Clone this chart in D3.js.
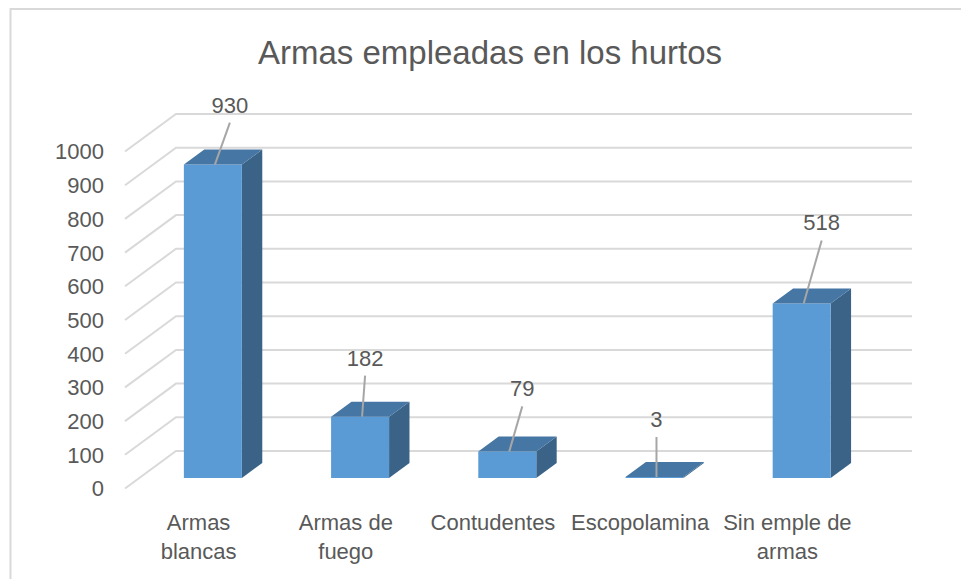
<!DOCTYPE html>
<html>
<head>
<meta charset="utf-8">
<script src="https://cdn.jsdelivr.net/npm/d3@7"></script>
<style>
  body { margin: 0; background: #fff; }
  svg text { font-family: "Liberation Sans", Arial, sans-serif; fill: #595959; }
</style>
</head>
<body>
<div id="chart"></div>
<script>
const categories = ["Armas blancas", "Armas de fuego", "Contudentes", "Escopolamina", "Sin emple de armas"];
const tickLabels = [["Armas", "blancas"], ["Armas de", "fuego"], ["Contudentes"], ["Escopolamina"], ["Sin emple de", "armas"]];
const values = [930, 182, 79, 3, 518];
const yTicks = [0, 100, 200, 300, 400, 500, 600, 700, 800, 900, 1000];
// manual data label placement (dx, dy from bar top), as in the original
const labelOffsets = [[15, -60], [3, -59], [13, -63], [0, -58], [18, -81]];

const width = 961, height = 579;
const floorY = 488.5;          // front-left bottom corner
const depth = { x: 51, y: -37.5 };
const barFront = 0.28, barBack = 0.68;

const svg = d3.select("#chart").append("svg")
    .attr("width", width)
    .attr("height", height);

// chart frame (only top and left edges show)
svg.append("path")
    .attr("d", `M10.5,${height} V9 H${width}`)
    .attr("fill", "none")
    .attr("stroke", "#d9d9d9")
    .attr("stroke-width", 2);

const x = d3.scaleBand()
    .domain(categories)
    .range([125, 861]);

const y = d3.scaleLinear()
    .domain([0, 1000])
    .range([0, 337]);

// project a point: front-plane x, value, depth fraction
function P(px, v, t) {
    return [px + t * depth.x, floorY - y(v) + t * depth.y];
}

// gridlines: side wall diagonals + back wall horizontals
const grid = svg.append("g")
    .attr("stroke", "#d9d9d9")
    .attr("stroke-width", 2)
    .attr("fill", "none");

yTicks.forEach(v => {
    const a = P(125, v, 0), b = P(125, v, 1), c = P(861, v, 1);
    grid.append("path").attr("d", `M${a}L${b}L${c}`);
});

// y tick labels
svg.append("g").selectAll("text")
    .data(yTicks)
    .enter()
    .append("text")
    .attr("x", 104)
    .attr("y", d => P(125, d, 0)[1])
    .attr("dy", "0.36em")
    .attr("text-anchor", "end")
    .style("font-size", "22px")
    .text(d => d);

// bars
const barW = 58;
const bars = svg.append("g").selectAll("g")
    .data(categories)
    .enter()
    .append("g");

function poly(pts) { return "M" + pts.join("L") + "Z"; }

bars.each(function(c, i) {
    const g = d3.select(this);
    const v = values[i];
    const x0 = x(c) + (x.bandwidth() - barW) / 2;
    const x1 = x0 + barW;
    // side
    g.append("path")
        .attr("d", poly([P(x1, 0, barFront), P(x1, 0, barBack), P(x1, v, barBack), P(x1, v, barFront)]))
        .attr("fill", "#3a6387");
    // front
    g.append("path")
        .attr("d", poly([P(x0, 0, barFront), P(x1, 0, barFront), P(x1, v, barFront), P(x0, v, barFront)]))
        .attr("fill", "#5b9bd5");
    // top
    g.append("path")
        .attr("d", poly([P(x0, v, barFront), P(x1, v, barFront), P(x1, v, barBack), P(x0, v, barBack)]))
        .attr("fill", "#4676a3");
});

// data labels with leader lines
bars.each(function(c, i) {
    const g = d3.select(this);
    const v = values[i];
    const x0 = x(c) + (x.bandwidth() - barW) / 2;
    const anchor = P(x0 + barW / 2 + 2, v, barFront);
    const lx = anchor[0] + labelOffsets[i][0];
    const ly = anchor[1] + labelOffsets[i][1];
    g.append("line")
        .attr("x1", anchor[0]).attr("y1", anchor[1])
        .attr("x2", lx).attr("y2", ly + 18)
        .attr("stroke", "#a6a6a6")
        .attr("stroke-width", 2);
    g.append("text")
        .attr("x", lx)
        .attr("y", ly)
        .attr("dy", "0.36em")
        .attr("text-anchor", "middle")
        .style("font-size", "22px")
        .text(v);
});

// category labels
svg.append("g").selectAll("text")
    .data(categories)
    .enter()
    .append("text")
    .attr("x", d => x(d) + x.bandwidth() / 2)
    .attr("y", 530)
    .attr("text-anchor", "middle")
    .style("font-size", "22px")
    .each(function(d, i) {
        const t = d3.select(this);
        tickLabels[i].forEach((line, j) => {
            t.append("tspan")
                .attr("x", x(d) + x.bandwidth() / 2)
                .attr("dy", j === 0 ? 0 : 29)
                .text(line);
        });
    });

// title
svg.append("text")
    .attr("x", 490)
    .attr("y", 64)
    .attr("text-anchor", "middle")
    .style("font-size", "33px")
    .text("Armas empleadas en los hurtos");
</script>
</body>
</html>
